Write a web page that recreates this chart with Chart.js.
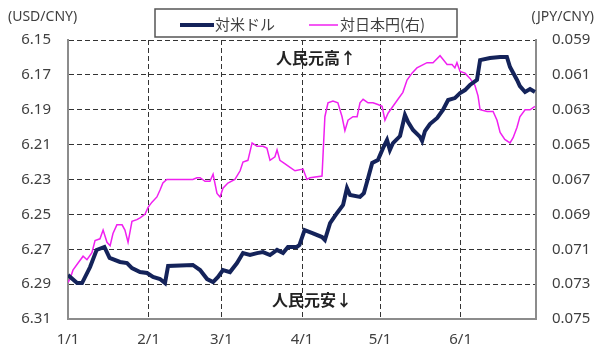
<!DOCTYPE html>
<html>
<head>
<meta charset="utf-8">
<script src="https://cdn.jsdelivr.net/npm/chart.js@4"></script>
<style>
  html, body { margin: 0; padding: 0; background: #fff; }
  #chart { display: block; }
</style>
</head>
<body>
<canvas id="chart" width="599" height="349"></canvas>
<script>
// x values are days counted from 1/1
const monthTicks = [0, 31, 59, 90, 120, 151];
const monthLabels = ['1/1', '2/1', '3/1', '4/1', '5/1', '6/1'];
const usdTicks = [6.15, 6.17, 6.19, 6.21, 6.23, 6.25, 6.27, 6.29, 6.31];
const jpyTicks = [0.059, 0.061, 0.063, 0.065, 0.067, 0.069, 0.071, 0.073, 0.075];

// 対米ドル (left axis)
const usdDays = [0, 3.5, 5.4, 8.5, 11, 14, 16, 20, 22.7, 24.6, 27.7, 30.4, 32.7, 35.4, 37.3,
  38.5, 48, 50.8, 53.5, 55.8, 57.7, 59.6, 62.3, 65, 67.3, 70, 72.7, 75, 77.7, 80.4, 82.7,
  84.6, 88, 89, 91, 94, 97.7, 98.8, 100.8, 103.5, 105.8, 107.3, 108.5, 112.3, 113.8, 115,
  117, 119.2, 121.2, 122.7, 123.8, 125, 127.7, 129.6, 130.8, 132.7, 135.4, 136.2, 137.3,
  139.2, 142, 144.2, 146.2, 148.8, 150.8, 152.7, 154.6, 157.3, 158.5, 162.3, 166.2, 168.8,
  170, 172.7, 173.8, 175.8, 177.7, 179.6];
const usdRate = [6.2848, 6.2894, 6.2894, 6.2802, 6.2704, 6.2687, 6.2750, 6.2773, 6.2779,
  6.2808, 6.2831, 6.2836, 6.2859, 6.2871, 6.2894, 6.2796, 6.2790, 6.2819, 6.2871, 6.2888,
  6.2859, 6.2819, 6.2831, 6.2779, 6.2722, 6.2733, 6.2722, 6.2716, 6.2733, 6.2704, 6.2722,
  6.2687, 6.2687, 6.2676, 6.2590, 6.2607, 6.2630, 6.2647, 6.2550, 6.2492, 6.2446, 6.2349,
  6.2389, 6.2400, 6.2378, 6.2314, 6.2205, 6.2188, 6.2119, 6.2074, 6.2131, 6.2091, 6.2051,
  6.1930, 6.1970, 6.2016, 6.2056, 6.2079, 6.2022, 6.1982, 6.1947, 6.1901, 6.1844, 6.1833,
  6.1804, 6.1787, 6.1758, 6.1729, 6.1615, 6.1603, 6.1597, 6.1597, 6.1655, 6.1729, 6.1764,
  6.1798, 6.1781, 6.1798];

// 対日本円 (right axis)
const jpyDays = [0, 0.8, 1.9, 3.8, 5.8, 7.3, 9.2, 10.4, 12.3, 13.5, 15, 16.2, 17.3, 18.8,
  20.8, 21.9, 23.1, 24.6, 26.5, 27.7, 29.6, 30.8, 32.3, 34.2, 35.4, 36.5, 38, 48, 49.6,
  50.8, 52.7, 54.6, 55.8, 57.3, 58.5, 59.6, 61.5, 64.2, 66.2, 67.3, 69.2, 70.8, 72.7, 75,
  76.5, 77.7, 79.6, 80.4, 81.5, 83.5, 85.4, 87.3, 90.4, 91.9, 93.1, 97.7, 98.8, 100, 101.9,
  103.8, 105.4, 106.5, 107.7, 109.6, 111.2, 112.3, 113.5, 115.4, 117.3, 119.2, 120.8, 121.9,
  123.1, 125, 126.9, 128.8, 130.4, 132.3, 134.2, 138.1, 140.4, 143.1, 144.2, 145.8, 147.7,
  148.8, 149.6, 150.8, 152.7, 154.6, 156.5, 157.7, 158.5, 161.2, 163.5, 165, 166.2, 168,
  170, 171.2, 172.7, 173.8, 175.8, 177.7, 179.6];
const jpyRate = [0.0729, 0.0727, 0.0722, 0.0718, 0.0714, 0.0716, 0.0712, 0.0705, 0.0704,
  0.0699, 0.0706, 0.0708, 0.0701, 0.0696, 0.0696, 0.0699, 0.0706, 0.0694, 0.0693, 0.0692,
  0.0690, 0.0686, 0.0683, 0.0680, 0.0676, 0.0672, 0.0670, 0.0670, 0.0669, 0.0669, 0.0671,
  0.0671, 0.0667, 0.0678, 0.0680, 0.0675, 0.0672, 0.0670, 0.0665, 0.0660, 0.0659, 0.0649,
  0.0651, 0.0651, 0.0652, 0.0659, 0.0657, 0.0653, 0.0659, 0.0661, 0.0663, 0.0665, 0.0664,
  0.0670, 0.0669, 0.0668, 0.0634, 0.0626, 0.0625, 0.0626, 0.0634, 0.0642, 0.0636, 0.0634,
  0.0634, 0.0626, 0.0624, 0.0626, 0.0626, 0.0627, 0.0628, 0.0636, 0.0632, 0.0628, 0.0624,
  0.0620, 0.0613, 0.0609, 0.0606, 0.0603, 0.0603, 0.0599, 0.0601, 0.0604, 0.0604, 0.0606,
  0.0603, 0.0608, 0.0609, 0.0612, 0.0616, 0.0622, 0.0630, 0.0631, 0.0631, 0.0636, 0.0643,
  0.0647, 0.0649, 0.0646, 0.0640, 0.0634, 0.0630, 0.0630, 0.0628];

const NAVY = '#14235a';
const MAGENTA = '#f020f0';
const GRID = '#333333';
const AXIS = '#8c8c8c';
const TEXT = '#404040';
const DASH = [5, 3];
const NUM_FONT = { family: '"Noto Sans", sans-serif', size: 15 };
const JP_FONT = '"Noto Sans CJK JP", sans-serif';

/**
 * Legend box, axis unit labels and the 人民元高/安 notes
 */
const decor = {
  id: 'decor',
  afterDraw(chart) {
    const ctx = chart.ctx;
    const ds = chart.data.datasets;
    ctx.save();

    // legend
    ctx.fillStyle = '#fff';
    ctx.fillRect(155, 9, 302, 28);
    ctx.strokeStyle = '#555';
    ctx.lineWidth = 1.5;
    ctx.strokeRect(155, 9, 302, 28);

    ctx.lineCap = 'butt';
    ctx.strokeStyle = ds[0].borderColor;
    ctx.lineWidth = 4;
    ctx.beginPath(); ctx.moveTo(180, 25); ctx.lineTo(214, 25); ctx.stroke();
    ctx.strokeStyle = ds[1].borderColor;
    ctx.lineWidth = 1.5;
    ctx.beginPath(); ctx.moveTo(309, 25); ctx.lineTo(338, 25); ctx.stroke();

    ctx.fillStyle = TEXT;
    ctx.font = `15px ${JP_FONT}`;
    ctx.textBaseline = 'middle';
    ctx.textAlign = 'left';
    ctx.fillText(ds[0].label, 215, 24);
    ctx.fillText(ds[1].label, 340, 24);

    // unit labels
    ctx.font = `14px ${NUM_FONT.family}`;
    ctx.textAlign = 'left';
    ctx.fillText('(USD/CNY)', 8, 17);
    ctx.textAlign = 'right';
    ctx.fillText('(JPY/CNY)', 594, 17);

    // notes
    ctx.fillStyle = '#222';
    ctx.font = `bold 16px ${JP_FONT}`;
    ctx.textAlign = 'center';
    ctx.fillText('人民元高↑', 316, 58);
    ctx.fillText('人民元安↓', 312, 300);

    ctx.restore();
  }
};

const toPoints = (xs, ys) => xs.map((x, i) => ({ x, y: ys[i] }));

new Chart(document.getElementById('chart'), {
  type: 'line',
  data: {
    datasets: [{
      label: '対米ドル',
      data: toPoints(usdDays, usdRate),
      yAxisID: 'y',
      borderColor: NAVY,
      borderWidth: 4,
      pointRadius: 0,
      tension: 0
    }, {
      label: '対日本円(右)',
      data: toPoints(jpyDays, jpyRate),
      yAxisID: 'y2',
      borderColor: MAGENTA,
      borderWidth: 1.5,
      pointRadius: 0,
      tension: 0
    }]
  },
  options: {
    responsive: false,
    animation: false,
    devicePixelRatio: 1,
    layout: { padding: { top: 40, left: 0, right: 0, bottom: 0 } },
    plugins: {
      legend: { display: false },
      tooltip: { enabled: false }
    },
    scales: {
      x: {
        type: 'linear',
        min: 0,
        max: 180,
        afterBuildTicks: s => { s.ticks = monthTicks.map(v => ({ value: v })); },
        afterFit: s => { s.height = 30; },
        ticks: {
          callback: (v, i) => monthLabels[i],
          color: TEXT,
          font: NUM_FONT,
          padding: 12,
          maxRotation: 0,
          autoSkip: false
        },
        grid: { color: GRID, lineWidth: 1, drawTicks: false },
        border: { display: true, color: AXIS, width: 2, dash: DASH }
      },
      y: {
        position: 'left',
        reverse: true,
        min: 6.15,
        max: 6.31,
        afterBuildTicks: s => { s.ticks = usdTicks.map(v => ({ value: v })); },
        afterFit: s => { s.width = 68; },
        ticks: {
          callback: v => v.toFixed(2),
          color: TEXT,
          font: NUM_FONT,
          padding: 17
        },
        grid: { color: GRID, lineWidth: 1, drawTicks: false },
        border: { display: true, color: AXIS, width: 2, dash: DASH }
      },
      y2: {
        position: 'right',
        reverse: true,
        min: 0.059,
        max: 0.075,
        afterBuildTicks: s => { s.ticks = jpyTicks.map(v => ({ value: v })); },
        afterFit: s => { s.width = 63; },
        ticks: {
          callback: v => v.toFixed(3),
          color: TEXT,
          font: NUM_FONT,
          padding: 16
        },
        grid: { display: false, drawTicks: false },
        border: { display: true, color: AXIS, width: 2 }
      }
    }
  },
  plugins: [decor]
});
</script>
</body>
</html>
